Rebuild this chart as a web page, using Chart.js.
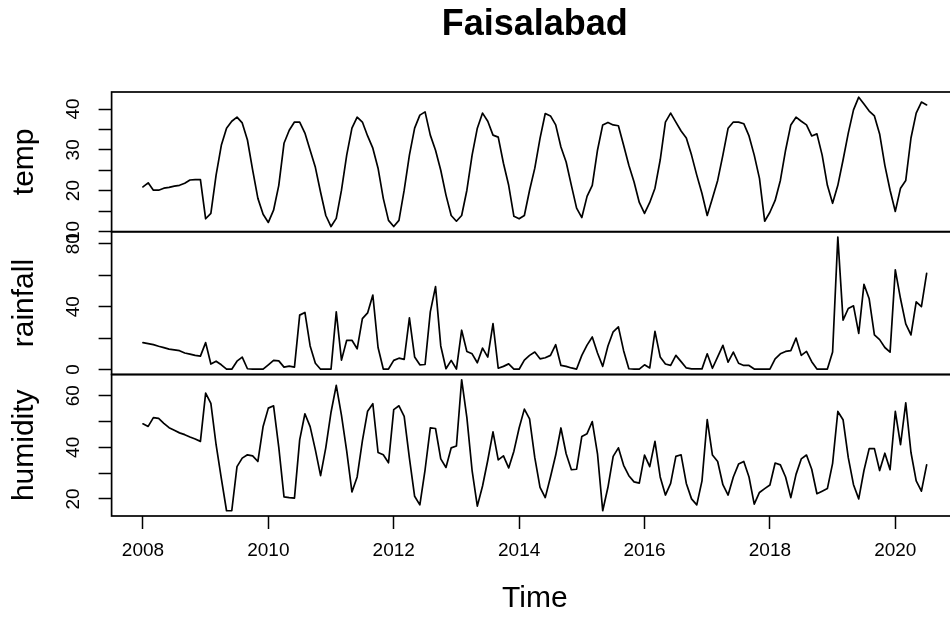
<!DOCTYPE html>
<html>
<head>
<meta charset="utf-8">
<title>Faisalabad</title>
<script src="https://cdn.jsdelivr.net/npm/chart.js@4.4.1/dist/chart.umd.min.js"></script>
<style>
  html, body { margin: 0; padding: 0; background: #fff; width: 950px; height: 617px; overflow: hidden; }
  canvas { display: block; }
</style>
</head>
<body>
<canvas id="chart" width="1070" height="617"></canvas>
<script>
// Monthly series, January 2008 to July 2020
const startYear = 2008;

const temp = [
  20.9, 21.9, 20.1, 20.1, 20.6, 20.8, 21.1, 21.3, 21.8, 22.6, 22.7, 22.7,
  13.1, 14.4, 23.8, 31.1, 35.3, 37.0, 38.0, 36.6, 32.4, 25.0, 18.1, 14.2,
  12.2, 15.2, 21.3, 31.6, 34.8, 36.8, 36.8, 34.1, 29.9, 25.7, 19.6, 13.9,
  11.2, 13.2, 20.1, 28.7, 35.3, 38.0, 36.8, 33.4, 30.4, 25.5, 18.1, 12.7,
  11.2, 12.7, 20.1, 28.7, 35.3, 38.5, 39.3, 33.6, 29.9, 25.0, 18.9, 13.9,
  12.5, 13.9, 20.1, 28.7, 35.3, 39.0, 37.0, 33.6, 33.1, 26.7, 21.3, 13.7,
  13.1, 13.9, 20.1, 25.5, 32.8, 38.9, 38.3, 36.1, 30.7, 27.0, 21.3, 15.7,
  13.4, 18.6, 21.3, 29.9, 36.1, 36.7, 36.1, 35.9, 31.1, 26.2, 22.1, 17.1,
  14.4, 17.1, 20.6, 27.5, 36.8, 39.0, 36.8, 34.6, 32.9, 28.7, 23.8, 19.3,
  13.9, 18.1, 22.5, 28.7, 35.3, 36.8, 36.8, 36.4, 33.4, 28.7, 23.0, 12.5,
  14.7, 17.6, 22.5, 29.9, 36.1, 38.0, 37.0, 36.1, 33.4, 33.9, 28.7, 21.3,
  16.9, 21.3, 27.5, 34.1, 39.8, 42.9, 41.2, 39.5, 38.3, 33.9, 26.2, 20.1,
  14.9, 20.6, 22.5, 32.9, 39.0, 41.7, 41.0
];

const rainfall = [
  17.1, 16.5, 15.8, 14.8, 13.9, 13.0, 12.5, 12.0, 10.5, 9.8, 9.0, 8.5,
  17.1, 3.5, 5.3, 3.0, 0.2, 0.2, 5.3, 7.9, 0.5, 0.2, 0.2, 0.2,
  3.0, 5.8, 5.5, 1.5, 2.2, 1.5, 34.6, 36.3, 15.0, 4.0, 0.2, 0.2,
  0.3, 36.7, 6.0, 18.6, 18.6, 13.2, 32.4, 36.0, 47.4, 14.0, 0.3, 0.3,
  5.8, 7.2, 6.5, 32.8, 8.0, 3.0, 3.2, 36.7, 52.7, 15.0, 0.5, 5.8,
  0.3, 25.0, 11.5, 10.0, 4.3, 13.6, 7.9, 29.2, 0.8, 2.0, 3.6, 0.3,
  0.2, 6.0, 9.0, 11.1, 6.8, 7.5, 9.0, 15.8, 2.6, 2.0, 1.0, 0.3,
  9.0, 15.5, 20.7, 10.5, 2.0, 15.0, 24.0, 27.1, 12.0, 0.5, 0.3, 0.3,
  3.0, 1.0, 24.3, 8.0, 3.5, 2.6, 9.0, 5.0, 1.0, 0.4, 0.4, 0.4,
  10.0, 0.8, 8.0, 15.4, 4.7, 11.1, 4.0, 2.6, 2.6, 0.3, 0.2, 0.2,
  0.3, 6.8, 10.0, 11.5, 12.0, 20.0, 9.0, 11.5, 5.0, 0.3, 0.2, 0.3,
  11.1, 84.3, 31.4, 38.8, 40.5, 23.0, 54.2, 45.0, 22.0, 19.0, 14.0, 11.1,
  63.4, 45.0, 29.0, 22.0, 43.1, 40.0, 61.2
];

const humidity = [
  49.1, 48.1, 51.5, 51.2, 49.3, 47.6, 46.6, 45.6, 44.9, 44.0, 43.2, 42.3,
  61.0, 57.0, 41.0, 28.0, 15.4, 15.4, 32.5, 35.8, 37.1, 36.7, 34.5, 48.1,
  55.2, 56.1, 40.0, 20.8, 20.5, 20.3, 42.9, 53.0, 48.0, 39.0, 29.0, 39.9,
  53.6, 64.0, 52.4, 38.5, 22.7, 28.5, 42.5, 54.0, 56.9, 38.0, 37.1, 34.0,
  54.6, 56.1, 52.0, 35.8, 21.0, 17.7, 31.3, 47.5, 47.3, 35.5, 32.2, 39.8,
  40.5, 66.2, 51.5, 31.0, 17.2, 25.0, 35.0, 46.0, 35.1, 36.7, 32.0, 38.5,
  47.5, 54.8, 51.0, 36.0, 24.5, 20.5, 28.5, 37.0, 47.5, 37.5, 31.3, 31.5,
  44.2, 45.3, 50.0, 37.5, 15.4, 24.5, 36.5, 39.8, 33.0, 29.0, 26.6, 26.1,
  37.0, 32.5, 42.3, 28.5, 21.5, 26.0, 36.5, 37.1, 26.0, 20.0, 17.7, 27.0,
  50.7, 37.0, 34.5, 25.5, 21.5, 28.5, 33.5, 34.5, 28.5, 18.0, 22.5, 24.0,
  25.4, 33.9, 33.2, 28.5, 20.5, 29.5, 35.5, 37.0, 31.5, 22.0, 23.0, 24.0,
  33.8, 53.9, 50.7, 36.0, 25.5, 20.0, 31.0, 39.5, 39.5, 31.0, 37.7, 31.3,
  53.9, 41.0, 57.2, 38.0, 27.0, 23.0, 33.2
];

// Axis ticks and the subset of them that carry a label
const yearTicks = [2008, 2010, 2012, 2014, 2016, 2018, 2020];
const tempTicks = [10, 15, 20, 25, 30, 35, 40];
const tempLabels = [10, 20, 30, 40];
const rainTicks = [0, 20, 40, 60, 80];
const rainLabels = [0, 40, 80];
const humidityTicks = [20, 30, 40, 50, 60];
const humidityLabels = [20, 40, 60];

const FONT = "'Liberation Sans', Arial, Helvetica, sans-serif";
const AXIS_WIDTH = 111.6;   // room for the panel titles and tick labels
const X_AXIS_HEIGHT = 101;  // room for the year labels and "Time"

const time = temp.map((_, i) => startYear + i / 12);
const toPoints = values => values.map((v, i) => ({ x: time[i], y: v }));

// Data range widened by 4% on each side
function paddedRange(values) {
  const lo = Math.min(...values);
  const hi = Math.max(...values);
  const pad = 0.04 * (hi - lo);
  return { min: lo - pad, max: hi + pad };
}

function panelAxis(title, values, ticks, labels, weight, stackWeight) {
  const range = paddedRange(values);
  return {
    type: 'linear',
    position: 'left',
    stack: 'panels',
    stackWeight: stackWeight,
    weight: weight,
    min: range.min,
    max: range.max,
    afterBuildTicks: scale => { scale.ticks = ticks.map(v => ({ value: v })); },
    afterFit: scale => { scale.width = AXIS_WIDTH; },
    ticks: {
      autoSkip: false,
      minRotation: 90,
      maxRotation: 90,
      crossAlign: 'center',
      padding: 14,
      color: '#000',
      font: { family: FONT, size: 19 },
      callback: v => (labels.includes(v) ? String(v) : '')
    },
    grid: {
      display: true,
      drawOnChartArea: false,
      drawTicks: true,
      tickLength: 13,
      tickColor: '#000',
      tickWidth: 1.5
    },
    border: { display: false },
    title: {
      display: true,
      text: title,
      color: '#000',
      font: { family: FONT, size: 30 },
      padding: { top: 7, bottom: 0 }
    }
  };
}

function lineSeries(label, values, axisId) {
  return {
    label: label,
    data: toPoints(values),
    yAxisID: axisId,
    borderColor: '#000',
    borderWidth: 1.7,
    borderJoinStyle: 'round',
    borderCapStyle: 'round',
    pointRadius: 0,
    tension: 0,
    fill: false
  };
}

// Outline every panel with a box, as in a stacked time-series plot
const panelFrames = {
  id: 'panelFrames',
  afterDatasetsDraw(chart) {
    const { ctx, chartArea } = chart;
    ctx.save();
    ctx.strokeStyle = '#000';
    ctx.lineWidth = 1.7;
    ['temp', 'rainfall', 'humidity'].forEach(id => {
      const s = chart.scales[id];
      ctx.strokeRect(chartArea.left, s.top, chartArea.right - chartArea.left, s.bottom - s.top);
    });
    ctx.restore();
  }
};

const timeRange = paddedRange(time);

new Chart(document.getElementById('chart'), {
  type: 'line',
  data: {
    datasets: [
      lineSeries('temp', temp, 'temp'),
      lineSeries('rainfall', rainfall, 'rainfall'),
      lineSeries('humidity', humidity, 'humidity')
    ]
  },
  options: {
    responsive: false,
    animation: false,
    devicePixelRatio: 1,
    layout: { autoPadding: false, padding: { left: 0, top: 0, right: 112, bottom: 0 } },
    plugins: {
      legend: { display: false },
      tooltip: { enabled: false },
      title: {
        display: true,
        fullSize: false,
        text: 'Faisalabad',
        color: '#000',
        font: { family: FONT, size: 36, weight: 'bold' },
        padding: { top: 3.9, bottom: 44.9 }
      }
    },
    scales: {
      x: {
        type: 'linear',
        position: 'bottom',
        min: timeRange.min,
        max: timeRange.max,
        afterBuildTicks: scale => { scale.ticks = yearTicks.map(v => ({ value: v })); },
        afterFit: scale => { scale.height = X_AXIS_HEIGHT; },
        ticks: {
          autoSkip: false,
          minRotation: 0,
          maxRotation: 0,
          padding: 10.6,
          color: '#000',
          font: { family: FONT, size: 19 },
          callback: v => String(v)
        },
        grid: {
          display: true,
          drawOnChartArea: false,
          drawTicks: true,
          tickLength: 13,
          tickColor: '#000',
          tickWidth: 1.5
        },
        border: { display: false },
        title: {
          display: true,
          text: 'Time',
          color: '#000',
          font: { family: FONT, size: 30 },
          padding: { top: 0, bottom: 0 }
        }
      },
      temp: panelAxis('temp', temp, tempTicks, tempLabels, 3, 139.7),
      rainfall: panelAxis('rainfall', rainfall, rainTicks, rainLabels, 2, 142.8),
      humidity: panelAxis('humidity', humidity, humidityTicks, humidityLabels, 1, 141.5)
    }
  },
  plugins: [panelFrames]
});
</script>
</body>
</html>
